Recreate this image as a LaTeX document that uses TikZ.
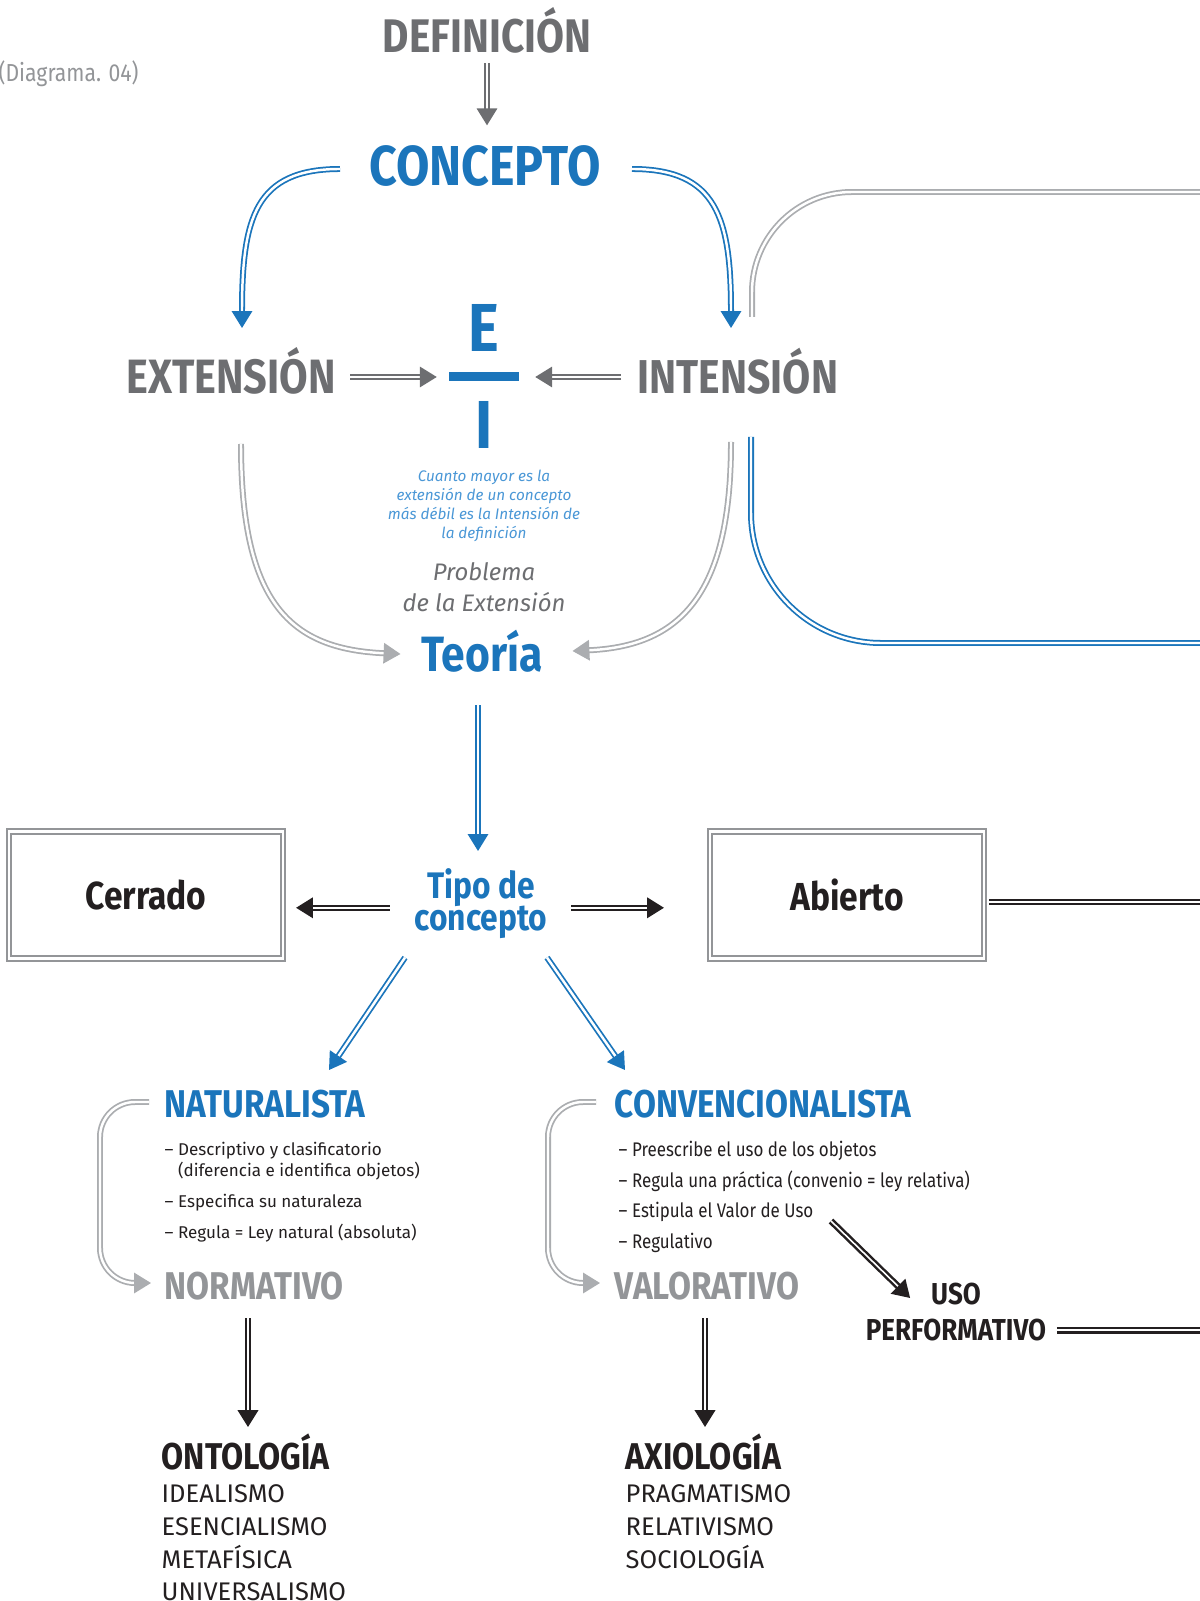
\documentclass[tikz,border=0pt]{standalone}
\usepackage{fontspec}
\setmainfont{Fira Sans}
\newfontfamily\condfont{Fira Sans}[FakeStretch=0.86]
\usetikzlibrary{arrows.meta, positioning, calc}

\definecolor{azul}{HTML}{1B75BB}
\definecolor{azulclaro}{HTML}{4A97D6}
\definecolor{grisosc}{HTML}{6D6E71}
\definecolor{grismed}{HTML}{939598}
\definecolor{grisclaro}{HTML}{ABADB0}
\definecolor{negro}{HTML}{231F20}

\begin{document}
\begin{tikzpicture}[x=0.01cm, y=-0.01cm,
    tit/.style={inner sep=0pt, anchor=base, font=\condfont\bfseries\fontsize{#1}{#1}\selectfont},
    flecha/.style={double=white, line width=0.5pt, double distance=0.7pt, -{Triangle[length=4.8pt, width=5.8pt]}},
    linea/.style={double=white, line width=0.5pt, double distance=0.7pt},
    negra/.style={draw=negro, line width=0.7pt, double distance=0.45pt},
    caja/.style={draw=grismed, double=white, line width=0.55pt, double distance=0.7pt, minimum width=2.74cm, minimum height=1.27cm, inner sep=0pt, text=negro, font=\condfont\bfseries\fontsize{11.1}{11.1}\selectfont}]

  \useasboundingbox (0,0) rectangle (1199,1601);

  % titulos
  \node[inner sep=0pt, anchor=base west, text=grismed, font=\condfont\fontsize{7}{7}\selectfont] (diag) at (-2,82) {(Diagrama. 04)};
  \node[tit=13.4, text=grisosc] (defi) at (487,53) {DEFINICIÓN};
  \node[tit=16, text=azul] (conc) at (485,186) {CONCEPTO};
  \node[tit=19.3, text=azul] (letraE) at (484,352) {E};
  \node[fill=azul, inner sep=0pt, minimum width=0.69cm, minimum height=0.09cm] (barra) at (484,377) {};
  \node[tit=19.3, text=azul] (letraI) at (484,449) {I};
  \node[tit=13.7, text=grisosc] (ext) at (231,394) {EXTENSIÓN};
  \node[tit=13.5, text=grisosc] (int) at (738,394) {INTENSIÓN};
  \node[inner sep=0pt, anchor=north, align=center, text=azulclaro, font=\itshape\fontsize{4.35}{5.4}\selectfont] (nota) at (484,469) {Cuanto mayor es la\\extensión de un concepto\\más débil es la Intensión de\\la definición};
  \node[inner sep=0pt, anchor=north, align=center, text=grisosc, font=\itshape\fontsize{6.8}{8.8}\selectfont] (prob) at (484,562) {Problema\\de la Extensión};
  \node[tit=14.1, text=azul] (teo) at (482,671) {Teoría};
  \node[inner sep=0pt, anchor=north, align=center, text=azul, font={\condfont\bfseries\fontsize{10.5}{9.1}\selectfont\lineskiplimit=-10pt\relax}] (tipo) at (481,868) {Tipo de\\concepto};
  \node[caja] (cerr) at (146,895) {Cerrado};
  \node[caja] (abie) at (847,895) {Abierto};

  % ramas
  \node[tit=11, anchor=base west, text=azul] (natu) at (164,1117) {NATURALISTA};
  \node[inner sep=0pt, anchor=north west, align=left, text=negro, font=\fontsize{4.85}{6}\selectfont] (natlista) at (164,1141) {– Descriptivo y clasificatorio\\\hphantom{– }(diferencia e identifica objetos)\\[2.9pt]– Especifica su naturaleza\\[2.9pt]– Regula = Ley natural (absoluta)};
  \node[tit=11, anchor=base west, text=grismed] (norm) at (164,1299) {NORMATIVO};
  \node[tit=11, anchor=base west, text=azul] (conv) at (614,1117) {CONVENCIONALISTA};
  \node[inner sep=0pt, anchor=north west, align=left, text=negro, font=\condfont\fontsize{5.6}{8.8}\selectfont] (convlista) at (618,1140) {– Preescribe el uso de los objetos\\– Regula una práctica (convenio = ley relativa)\\– Estipula el Valor de Uso\\– Regulativo};
  \node[tit=11, anchor=base west, text=grismed] (valo) at (614,1299) {VALORATIVO};
  \node[inner sep=0pt, anchor=north, align=center, text=negro, font=\condfont\bfseries\fontsize{8.6}{10.2}\selectfont] (uso) at (956,1282) {USO\\PERFORMATIVO};
  \node[tit=10.6, anchor=base west, text=negro] (onto) at (161,1469) {ONTOLOGÍA};
  \node[inner sep=0pt, anchor=north west, align=left, text=negro, font=\fontsize{7.25}{9.3}\selectfont] (ontolista) at (161,1484) {IDEALISMO\\ESENCIALISMO\\METAFÍSICA\\UNIVERSALISMO};
  \node[tit=10.6, anchor=base west, text=negro] (axio) at (625,1469) {AXIOLOGÍA};
  \node[inner sep=0pt, anchor=north west, align=left, text=negro, font=\fontsize{7.25}{9.3}\selectfont] (axiolista) at (625,1484) {PRAGMATISMO\\RELATIVISMO\\SOCIOLOGÍA};

  \coordinate (finG) at (1215,192);
  \coordinate (finB) at (1215,643);
  \coordinate (finA) at (1215,902);
  \coordinate (finP) at (1215,1330);

  % conectores
  \draw[flecha, draw=grisosc] ($(defi.base)+(0,10)$) coordinate (d1) -- ($(d1 |- conc.north)+(0,-20)$);
  \draw[flecha, draw=azul] ($(conc.base)+(-145,-17)$) .. controls +(-85,0) and +(0,-110) .. ($(ext.base)+(11,-66)$);
  \draw[flecha, draw=azul] ($(conc.base)+(147,-17)$) .. controls +(85,0) and +(0,-110) .. ($(int.base)+(-7,-66)$);
  \draw[flecha, draw=grisosc] ($(ext.base east)+(14,-17)$) -- ($(barra.west)+(-12,0)$);
  \draw[flecha, draw=grisosc] ($(int.base west)+(-16,-17)$) -- ($(barra.east)+(16,0)$);
  \draw[linea, draw=grisclaro, rounded corners=1cm] ($(int.base)+(14,-77)$) |- (finG);
  \draw[linea, draw=azul, rounded corners=1.3cm] ($(int.base)+(13,43)$) |- (finB);

  \draw[flecha, draw=grisclaro] ($(ext.base)+(10,50)$) .. controls +(0,160) and +(-110,-5) .. ($(teo.base west)+(-20,-17)$);
  \draw[flecha, draw=grisclaro] ($(int.base)+(-7,48)$) .. controls +(0,150) and +(110,-5) .. ($(teo.base east)+(29,-20)$);
  \draw[flecha, draw=azul] ($(teo.base)+(-4,34)$) coordinate (t0) -- ($(t0 |- tipo.north)+(0,-17)$);

  \draw[flecha, negra] ($(tipo.west)+(-24,4)$) coordinate (tw) -- ($(tw -| cerr.east)+(12,0)$);
  \draw[flecha, negra] ($(tipo.east)+(23,4)$) coordinate (te) -- ($(te -| abie.west)+(-45,0)$);
  \draw[linea, negra] ($(abie.east)+(4,7)$) coordinate (ae) -- (ae -| finA);

  \draw[flecha, draw=azul] ($(tipo.south)+(-76,18)$) -- ($(natu.base west)+(165,-47)$);
  \draw[flecha, draw=azul] ($(tipo.south)+(66,18)$) -- ($(conv.base west)+(11,-47)$);

  \draw[flecha, draw=grisclaro, rounded corners=0.35cm] ($(natu.base west)+(-15,-15)$) -- ++(-49,0) |- ($(norm.base west)+(-13,-16)$);
  \draw[flecha, draw=grisclaro, rounded corners=0.35cm] ($(conv.base west)+(-18,-15)$) -- ++(-48,0) |- ($(valo.base west)+(-14,-16)$);

  \draw[flecha, negra] ($(norm.base west)+(84,19)$) coordinate (n1) -- ($(n1 |- onto.base)+(0,-42)$);
  \draw[flecha, negra] ($(valo.base west)+(91,19)$) coordinate (v1) -- ($(v1 |- axio.base)+(0,-42)$);
  \draw[flecha, negra] ($(convlista.north west)+(213,81)$) -- ($(uso.north west)+(45,16)$);
  \draw[linea, negra] ($(uso.south east)+(10,-11)$) coordinate (u1) -- (u1 -| finP);
\end{tikzpicture}
\end{document}
